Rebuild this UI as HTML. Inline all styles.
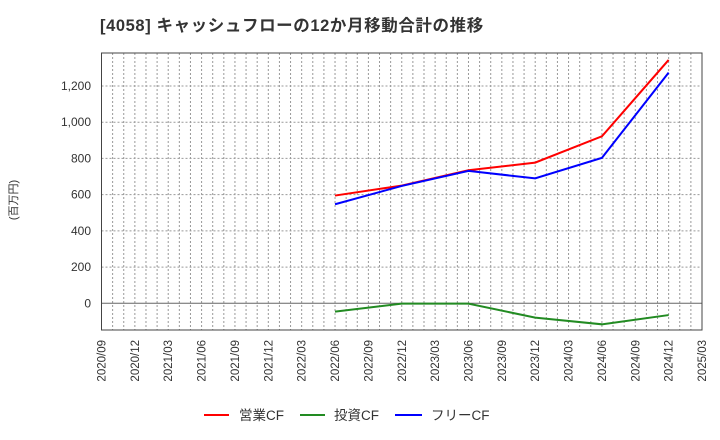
<!DOCTYPE html>
<html><head><meta charset="utf-8"><style>
body{margin:0;background:#fff;}
svg{display:block;font-family:"Liberation Sans","Noto Sans CJK JP",sans-serif;}
</style></head><body>
<svg id="chart" width="720" height="440">
<text x="100" y="31" font-size="16.5" font-weight="bold" fill="#333" letter-spacing="0.6">[4058]  キャッシュフローの12か月移動合計の推移</text>
<text transform="translate(17,200) rotate(-90)" text-anchor="middle" font-size="11" fill="#333">(百万円)</text>
<g id="grid"></g><g id="series"></g><g id="axes"></g>
<g>
<line x1="204" y1="415" x2="229" y2="415" stroke="#f00" stroke-width="2"/><text x="239" y="420" font-size="13.5" fill="#333">営業CF</text>
<line x1="300" y1="415" x2="325" y2="415" stroke="#228b22" stroke-width="2"/><text x="334" y="420" font-size="13.5" fill="#333">投資CF</text>
<line x1="395" y1="415" x2="422" y2="415" stroke="#00f" stroke-width="2"/><text x="431" y="420" font-size="13.5" fill="#333">フリーCF</text>
</g>
</svg>
<script>
const dates = ["2022/06","2022/12","2023/06","2023/12","2024/06","2024/12"];
const operatingCF = [595, 650, 735, 777, 922, 1344];
const investingCF = [-46, -2, -2, -79, -116, -65];
const freeCF = [547, 648, 731, 690, 803, 1274];
const yTicks = [0, 200, 400, 600, 800, 1000, 1200];
const xTicks = ["2020/09","2020/12","2021/03","2021/06","2021/09","2021/12","2022/03","2022/06","2022/09","2022/12","2023/03","2023/06","2023/09","2023/12","2024/03","2024/06","2024/09","2024/12","2025/03"];
const L=101.5,R=702,T=53,B=330;
function mi(s){const [y,m]=s.split("/").map(Number);return (y-2020)*12+(m-9);}
function X(s){return L+mi(s)*(R-L)/54;}
function Y(v){return 303.3-v*(303.3-86)/1200;}
const NS="http://www.w3.org/2000/svg";
function mk(t,a,p){const e=document.createElementNS(NS,t);for(const k in a)e.setAttribute(k,a[k]);p.appendChild(e);return e;}
const grid=document.getElementById("grid"),axes=document.getElementById("axes"),ser=document.getElementById("series");
for(let m=1;m<54;m++){const x=L+m*(R-L)/54;const g=mk("line",{x1:x,x2:x,y1:T,y2:B,stroke:"#999","stroke-dasharray":"2,2"},grid);

}
yTicks.forEach(v=>{const y=Y(v);const g=mk("line",{x1:L,x2:R,y1:y,y2:y,stroke:v===0?"#666":"#999","stroke-dasharray":v===0?"":"2,2"},grid);


const t=mk("text",{x:91,y:y+4,"text-anchor":"end","font-size":"12",fill:"#333"},axes);t.textContent=v.toLocaleString("en-US");

});
const fr=mk("rect",{x:L,y:T,width:R-L,height:B-T,fill:"none",stroke:"#444","stroke-width":"1"},axes);


xTicks.forEach(s=>{const x=X(s)+4;const t=mk("text",{transform:`translate(${x},340) rotate(-90)`,"text-anchor":"end","font-size":"11.5",fill:"#333"},axes);t.textContent=s;

});
[[operatingCF,"#f00","operating-cf-line"],[investingCF,"#228b22","investing-cf-line"],[freeCF,"#00f","free-cf-line"]].forEach(([d,c,n])=>{
const p=mk("polyline",{points:d.map((v,i)=>X(dates[i])+","+Y(v)).join(" "),fill:"none",stroke:c,"stroke-width":"2"},ser);

});
</script>
</body></html>
